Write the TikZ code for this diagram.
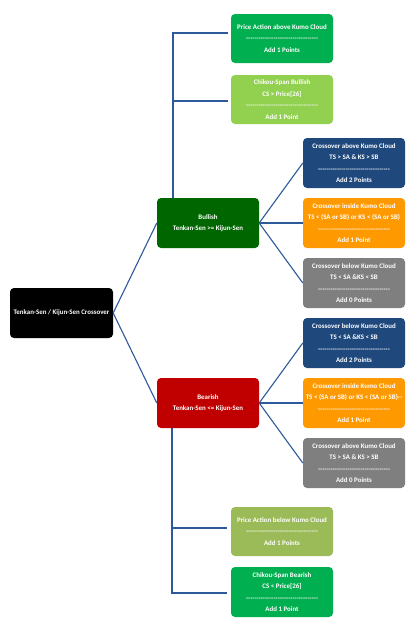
\documentclass[tikz,border=0pt]{standalone}
\usepackage{fontspec}
\setmainfont{Carlito}
\definecolor{linec}{HTML}{2E5A9C}
\definecolor{cgreen}{HTML}{00B050}
\definecolor{clgreen}{HTML}{92D050}
\definecolor{cdgreen}{HTML}{006600}
\definecolor{cblue}{HTML}{1F497D}
\definecolor{corange}{HTML}{FF9900}
\definecolor{cgray}{HTML}{7F7F7F}
\definecolor{cred}{HTML}{C00000}
\definecolor{colive}{HTML}{9BBB59}
\begin{document}
\begin{tikzpicture}[x=1pt,y=-1pt,
  box/.style={rounded corners=4pt, minimum width=102pt, minimum height=50pt, inner sep=0pt,
    align=center, text=white, font=\fontsize{6.9}{11.5}\selectfont\bfseries},
  conn/.style={draw=linec, line width=1.1pt}]
\useasboundingbox (0,0) rectangle (414,625);
\fill[white] (0,0) rectangle (414,625);
\newcommand{\dashline}{-{}-{}-{}-{}-{}-{}-{}-{}-{}-{}-{}-{}-{}-{}-{}-{}-{}-{}-{}-{}-{}-{}-{}-{}-{}-{}-{}-{}-{}-{}-{}-{}-{}-}
\node[box, fill=black, minimum width=103pt] (root) at (61.5,313) {Tenkan-Sen / Kijun-Sen Crossover};
\node[box, fill=cdgreen] (bull) at (208,223) {Bullish\\Tenkan-Sen >= Kijun-Sen};
\node[box, fill=cred] (bear) at (208,403) {Bearish\\Tenkan-Sen <= Kijun-Sen};
\node[box, fill=cgreen, minimum height=49pt] (pa) at (282,38.5) {Price Action above Kumo Cloud\\\dashline\\Add 1 Points};
\node[box, fill=clgreen, minimum height=49pt] (cb) at (282,99.5) {Chikou-Span Bullish\\CS > Price[26]\\\dashline\\Add 1 Point};
\node[box, fill=cblue] (r1) at (354,163) {Crossover above Kumo Cloud\\TS > SA \& KS > SB\\\dashline\\Add 2 Points};
\node[box, fill=corange] (r2) at (354,223) {Crossover inside Kumo Cloud\\TS < (SA or SB) or KS < (SA or SB)\\\dashline\\Add 1 Point};
\node[box, fill=cgray] (r3) at (354,283) {Crossover below Kumo Cloud\\TS < SA \&KS < SB\\\dashline\\Add 0 Points};
\node[box, fill=cblue] (r4) at (354,343) {Crossover below Kumo Cloud\\TS < SA \&KS < SB\\\dashline\\Add 2 Points};
\node[box, fill=corange] (r5) at (354,403) {Crossover inside Kumo Cloud\\TS < (SA or SB) or KS < (SA or SB)-{}-\\\dashline\\Add 1 Point};
\node[box, fill=cgray] (r6) at (354,463) {Crossover above Kumo Cloud\\TS > SA \& KS > SB\\\dashline\\Add 0 Points};
\node[box, fill=colive, minimum height=49pt] (pb) at (282,531.5) {Price Action below Kumo Cloud\\\dashline\\Add 1 Points};
\node[box, fill=cgreen] (cbear) at (282,592) {Chikou-Span Bearish\\CS < Price[26]\\\dashline\\Add 1 Point};
\draw[conn] (bull.west) -- (root.east) -- (bear.west);
\foreach \r in {r1,r2,r3} \draw[conn] (bull.east) -- (\r.west);
\foreach \r in {r4,r5,r6} \draw[conn] (bear.east) -- (\r.west);
\draw[conn] ([xshift=-35pt]bull.north) |- ([xshift=-3pt,yshift=5.5pt]pa.west);
\draw[conn] ([xshift=-35pt]bull.north) |- ([xshift=-3pt,yshift=-1.5pt]cb.west);
\draw[conn] ([xshift=-36pt]bear.south) |- ([xshift=-4pt,yshift=3.5pt]pb.west);
\draw[conn] ([xshift=-36pt]bear.south) |- ([xshift=-4pt,yshift=-1pt]cbear.west);
\end{tikzpicture}
\end{document}
